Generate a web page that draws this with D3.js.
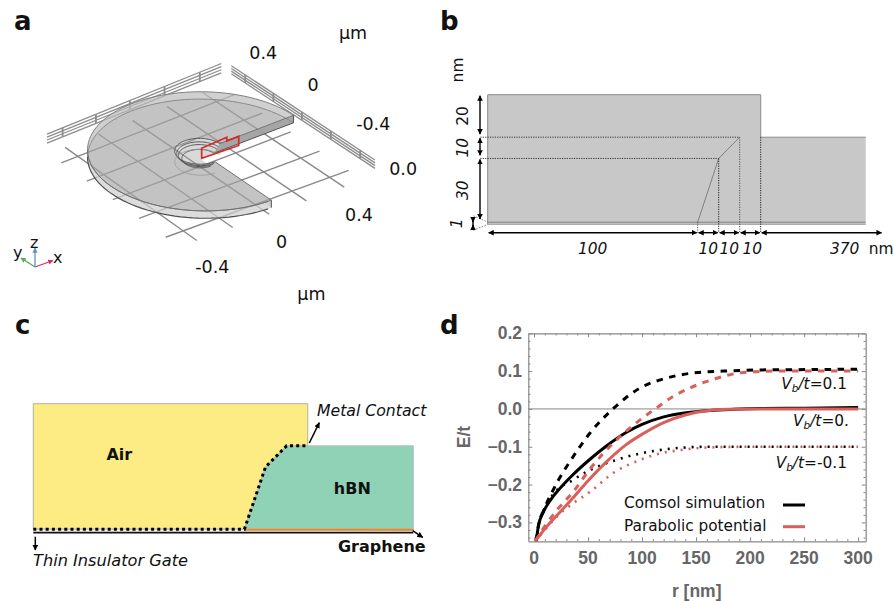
<!DOCTYPE html>
<html>
<head>
<meta charset="utf-8">
<script src="https://cdnjs.cloudflare.com/ajax/libs/d3/7.8.5/d3.min.js"></script>
<style>
html, body { margin: 0; padding: 0; background: #fff; }
svg { display: block; }
text { font-family: "DejaVu Sans", sans-serif; fill: #111; }
.plot text { font-family: "Liberation Sans", sans-serif; font-weight: bold; fill: #666; }
.plot text.note { font-family: "DejaVu Sans", sans-serif; font-weight: normal; fill: #111; }
</style>
</head>
<body>
<svg class="figure" width="893" height="601"></svg>
<script>
// panel a: world coordinates in um
var gridTicks = [-0.4, -0.2, 0, 0.2, 0.4];
var gridEnd = 0.5;
var gridZ = -0.125;
var diskRadius = 0.515;
var diskZ = [0, -0.06];
var holeRadii = [0.112, 0.103, 0.095, 0.08];
var holeZ = [0, -0.02, -0.035, -0.06];
var sweep = [0, 270];
var sectionX = [0.011, 0.011, 0.151, 0.151, 0.217, 0.217];
var sectionZ = [-0.063, 0.019, 0.03, 0, 0, -0.074];
var railZ = [0.027, 0.001, -0.024, -0.05];
var railRightZ = [0, -0.022, -0.044, -0.065];
var frontXTicks = ["-0.4", "0", "0.4"];
var frontXAt = [-0.39, -0.01, 0.4];
var sideYTicks = ["0.4", "0", "-0.4"];
var sideYAt = [0.35, 0, -0.41];

// panel b: sizes in nm
var stepX = [0, 100, 110, 120, 130, 180];
var stepZ = [0, 1, 31, 41, 61];
var widthLabels = ["100", "10", "10", "10", "370"];
var widthLabelAt = [50, 105, 115, 126, 170];
var heightLabels = ["20", "10", "30", "1"];
var heightLabelAt = [51, 36, 16, 0.5];

// panel d: E/t against r
var xTicks = [0, 50, 100, 150, 200, 250, 300];
var yTicks = [0.2, 0.1, 0, -0.1, -0.2, -0.3];
var comsolFlatR = [2, 4, 8.6, 15, 24, 36, 51, 67, 86, 100, 120, 141, 163, 185, 210, 250, 300];
var comsolFlatE = [-0.35, -0.31, -0.273, -0.242, -0.21, -0.174, -0.135, -0.098, -0.061, -0.041, -0.021, -0.01, -0.004, -0.001, 0.001, 0.002, 0.004];
var parabolicFlatR = [1, 12, 25, 37, 50, 67, 85, 100, 120, 140, 160, 180, 200, 250, 300];
var parabolicFlatE = [-0.35, -0.31, -0.27, -0.232, -0.19, -0.14, -0.095, -0.067, -0.036, -0.016, -0.005, -0.001, 0, 0, 0];
var comsolUpR = [2, 4, 9, 17.6, 36, 51.5, 73, 98, 122, 147, 175, 206, 250, 300];
var comsolUpE = [-0.35, -0.31, -0.268, -0.215, -0.127, -0.065, 0, 0.055, 0.081, 0.095, 0.1, 0.103, 0.104, 0.105];
var parabolicUpR = [1, 10, 21, 36, 51.5, 73, 92, 115, 130, 144, 169, 190, 221, 300];
var parabolicUpE = [-0.35, -0.31, -0.268, -0.22, -0.16, -0.091, -0.043, 0.006, 0.035, 0.055, 0.081, 0.095, 0.1, 0.1];
var comsolDownR = [2, 4, 9, 17.6, 36, 51.5, 76, 98, 116, 135, 160, 200, 300];
var comsolDownE = [-0.35, -0.31, -0.268, -0.226, -0.188, -0.162, -0.135, -0.118, -0.109, -0.103, -0.1, -0.1, -0.1];
var parabolicDownR = [1, 10, 21, 36, 51.5, 73, 98, 116, 135, 160, 200, 300];
var parabolicDownE = [-0.35, -0.32, -0.285, -0.25, -0.22, -0.17, -0.135, -0.118, -0.109, -0.102, -0.1, -0.1];

var black = "#000";
var red = "#d9605a";
var svg = d3.select(".figure");

// arrowheads, used by the dimension lines and the callouts
var defs = svg.append("defs");
defs.append("marker").attr("id", "head").attr("viewBox", "0 0 10 10").
    attr("refX", 9).attr("refY", 5).attr("markerWidth", 4).attr("markerHeight", 4).
    attr("orient", "auto-start-reverse").
    append("path").attr("d", "M0,0 L10,5 L0,10 z").attr("fill", "#000");
["#d0326b", "#5aa85a", "#5a93c5"].forEach(function(c, i) {
    defs.append("marker").attr("id", "triad" + i).attr("viewBox", "0 0 10 10").
        attr("refX", 9).attr("refY", 5).attr("markerWidth", 4).attr("markerHeight", 4).
        attr("orient", "auto").
        append("path").attr("d", "M0,0 L10,5 L0,10 z").attr("fill", c);
});

function letter(s, x, y) {
    svg.append("text").attr("x", x).attr("y", y).
        style("font-size", "26px").style("font-weight", "bold").text(s);
}
letter("a", 14, 30);
letter("b", 440, 30);
letter("c", 15, 334);
letter("d", 440, 334);

// ---- panel a: oblique view of the three quarter disk ----
var pa = svg.append("g");
var xToH = d3.scaleLinear().domain([0, 1]).range([0, 178]);
var xToV = d3.scaleLinear().domain([0, 1]).range([0, -68.3]);
var yToH = d3.scaleLinear().domain([0, 1]).range([0, -136.7]);
var yToV = d3.scaleLinear().domain([0, 1]).range([0, -93.3]);
var zToV = d3.scaleLinear().domain([0, 1]).range([0, -122]);

function project(p) {
    var h = xToH(p[0]) + yToH(p[1]);
    var v = xToV(p[0]) + yToV(p[1]) + zToV(p[2]);
    var f = 1 + 0.03 * h / 117; // a touch of perspective
    return [199.7 + h * f, 151.3 + v * f];
}
var worldLine = d3.line().
    x(function(d) { return project(d)[0]; }).
    y(function(d) { return project(d)[1]; });

function arc(r, z, from, to) {
    return d3.range(from === undefined ? sweep[0] : from, (to === undefined ? sweep[1] : to) + 1, 3).map(function(deg) {
        var t = deg * Math.PI / 180;
        return [r * Math.cos(t), r * Math.sin(t), z];
    });
}
function stroke3d(points, colour, w) {
    pa.append("path").attr("d", worldLine(points)).
        attr("fill", "none").attr("stroke", colour).attr("stroke-width", w);
}
function fill3d(points, colour, opacity) {
    pa.append("path").attr("d", worldLine(points) + "Z").
        attr("fill", colour).attr("fill-opacity", opacity).attr("stroke", "none");
}

// floor grid
gridTicks.forEach(function(t) {
    stroke3d([[t, -gridEnd, gridZ], [t, gridEnd, gridZ]], "#8a8a8a", 1.4);
    stroke3d([[-gridEnd, t, gridZ], [gridEnd, t, gridZ]], "#8a8a8a", 1.4);
});
// back rails
railZ.forEach(function(z) {
    stroke3d([[-0.495, 0.52, z], [0.52, 0.52, z]], "#8c8c8c", 1.3);
});
railRightZ.forEach(function(z) {
    stroke3d([[0.56, -gridEnd, z], [0.56, gridEnd, z]], "#8c8c8c", 1.3);
});
gridTicks.forEach(function(t) {
    stroke3d([[t, 0.52, railZ[0]], [t, 0.52, railZ[3]]], "#8c8c8c", 1.8);
    stroke3d([[0.56, t, railRightZ[0]], [0.56, t, railRightZ[3]]], "#8c8c8c", 1.8);
});

var topOuter = arc(diskRadius, diskZ[0]);
var bottomOuter = arc(diskRadius, diskZ[1]);
var topInner = arc(holeRadii[0], diskZ[0]);
var origin = [0, 0, diskZ[1]];

// bottom plate, rim wall, cut walls, top face
fill3d(bottomOuter.concat([origin]), "#a4a4a4", 0.42);
fill3d(topOuter.concat(bottomOuter.slice().reverse()), "#e0e0e0", 0.5);
fill3d([[holeRadii[0], 0, diskZ[0]], [diskRadius, 0, diskZ[0]], [diskRadius, 0, diskZ[1]], [holeRadii[3], 0, diskZ[1]]], "#a0a0a0", 0.9);
fill3d([[0, -holeRadii[0], diskZ[0]], [0, -diskRadius, diskZ[0]], [0, -diskRadius, diskZ[1]], [0, -holeRadii[3], diskZ[1]]], "#a4a4a4", 0.42);
fill3d(topOuter.concat(topInner.slice().reverse()), "#a4a4a4", 0.42);

// edges
stroke3d(topOuter, "#808080", 1);
stroke3d(arc(diskRadius, diskZ[1], 0, 142), "#8a8a8a", 1);
stroke3d(arc(diskRadius, diskZ[1], 142, 270), "#4f4f4f", 1.2);
stroke3d(arc(diskRadius, diskZ[0], 142, 270), "#707070", 0.9);
stroke3d([[diskRadius, 0, diskZ[0]], [holeRadii[0], 0, diskZ[0]]], "#666", 0.8);
stroke3d([[diskRadius, 0, diskZ[1]], [holeRadii[3], 0, diskZ[1]]], "#555", 1);
stroke3d([[diskRadius, 0, diskZ[0]], [diskRadius, 0, diskZ[1]]], "#555", 1);
stroke3d([[0, -diskRadius, diskZ[0]], [0, -holeRadii[0], diskZ[0]]], "#666", 0.9);
stroke3d([[0, -diskRadius, diskZ[0]], [0, -diskRadius, diskZ[1]]], "#555", 1);
holeRadii.forEach(function(r, i) {
    stroke3d(arc(r, holeZ[i]), "#555", 1);
});
stroke3d(arc(holeRadii[0], diskZ[1] - 0.03), "#999", 0.8);

// red section outline
var section = sectionX.map(function(x, i) { return [x, 0, sectionZ[i]]; });
pa.append("path").attr("d", worldLine(section) + "Z").
    attr("fill", "none").attr("stroke", "#d42a2a").attr("stroke-width", 1.7);

function worldLabel(s, x, y, z) {
    var p = project([x, y, z]);
    pa.append("text").attr("x", p[0]).attr("y", p[1]).attr("text-anchor", "middle").
        attr("dominant-baseline", "central").style("font-size", "17.5px").text(s);
}
frontXTicks.forEach(function(s, i) { worldLabel(s, frontXAt[i], -0.6, -0.268); });
sideYTicks.forEach(function(s, i) { worldLabel(s, 0.62, sideYAt[i], 0.18); });
worldLabel("0.0", 0.82, -0.35, -0.333);
worldLabel("\u03bcm", 0.15, -0.6, -0.76);
worldLabel("\u03bcm", 0.83, 0, 0.47);

// axis triad
var triadOrigin = [35, 267];
var triad = [[{ x: 18, y: -6.5 }, "x"], [{ x: -14, y: -9 }, "y"], [{ x: 0, y: -19 }, "z"]];
triad.forEach(function(d, i) {
    pa.append("line").attr("x1", triadOrigin[0]).attr("y1", triadOrigin[1]).
        attr("x2", triadOrigin[0] + d[0].x).attr("y2", triadOrigin[1] + d[0].y).
        attr("stroke", ["#d0326b", "#5aa85a", "#5a93c5"][i]).attr("stroke-width", 1.3).
        attr("marker-end", "url(#triad" + i + ")");
});
pa.append("text").attr("x", 53).attr("y", 263).style("font-size", "16px").text("x");
pa.append("text").attr("x", 13).attr("y", 258).style("font-size", "16px").text("y");
pa.append("text").attr("x", 30).attr("y", 248).style("font-size", "16px").text("z");

// ---- panel b: cross section with sizes ----
var pb = svg.append("g");
var bx = d3.scaleLinear().domain([0, 180]).range([487.7, 865.7]);
var bz = d3.scaleLinear().domain([0, 61]).range([224.3, 94.7]);
var bLine = d3.line().x(function(d) { return bx(d[0]); }).y(function(d) { return bz(d[1]); });

pb.append("path").
    attr("d", bLine([[stepX[0], stepZ[0]], [stepX[0], stepZ[4]], [stepX[4], stepZ[4]], [stepX[4], stepZ[3]], [stepX[5], stepZ[3]], [stepX[5], stepZ[0]]]) + "Z").
    attr("fill", "#c8c8c8").attr("stroke", "none");
function bStroke(points, colour, w, dash) {
    pb.append("path").attr("d", bLine(points)).attr("fill", "none").
        attr("stroke", colour).attr("stroke-width", w).attr("stroke-dasharray", dash || null);
}
bStroke([[0, 0], [0, 61], [130, 61], [130, 41], [180, 41]], "#8a8a8a", 1);
bStroke([[0, 1], [180, 1]], "#808080", 1);
bStroke([[0, 0], [180, 0]], "#9a9a9a", 1);
bStroke([[100, 1], [110, 31], [120, 41]], "#777", 0.9);

// dotted guides
bStroke([[-3.5, 41], [120, 41]], "#333", 1, "1.2,1.2");
bStroke([[-3.5, 31], [110, 31]], "#333", 1, "1.2,1.2");
bStroke([[100, 1], [100, -4]], "#555", 1, "1.2,1.2");
bStroke([[110, 31], [110, -4]], "#222", 1, "1.2,1.2");
bStroke([[120, 41], [120, -4]], "#555", 1, "1.2,1.2");
bStroke([[130, 41], [130, -4]], "#222", 1, "1.2,1.2");
bStroke([[-6.8, -2.8], [0, 0]], "#555", 0.8, "1.5,1.5");
bStroke([[-6.8, 4], [0, 1]], "#555", 0.8, "1.5,1.5");

function dimension(g, x1, y1, x2, y2, both) {
    var l = g.append("line").attr("x1", x1).attr("y1", y1).attr("x2", x2).attr("y2", y2).
        attr("stroke", "#000").attr("stroke-width", 1.4).attr("marker-end", "url(#head)");
    if (both) l.attr("marker-start", "url(#head)");
}
// width arrows
var widthStops = [0, 100, 110, 120, 130, 188];
d3.pairs(widthStops).forEach(function(p) {
    dimension(pb, bx(p[0]) + 1, 232.7, bx(p[1]) - 1, 232.7, true);
});
widthLabels.forEach(function(s, i) {
    pb.append("text").attr("x", bx(widthLabelAt[i])).attr("y", 253.5).attr("text-anchor", "middle").
        style("font-size", "15.4px").style("font-style", "italic").text(s);
});
pb.append("text").attr("x", 881).attr("y", 253.5).attr("text-anchor", "middle").
    style("font-size", "15.4px").text("nm");

// height arrows
[[61, 42], [41, 32], [31, 2]].forEach(function(p) {
    dimension(pb, 480, bz(p[0]) + 1, 480, bz(p[1]) - 1, true);
});
dimension(pb, 473, 218, 473, 222, false);
dimension(pb, 473, 230, 473, 225, false);
pb.append("line").attr("x1", 473).attr("y1", 218).attr("x2", 473).attr("y2", 230).
    attr("stroke", "#000").attr("stroke-width", 1.4);
heightLabels.forEach(function(s, i) {
    var cy = bz(heightLabelAt[i]);
    pb.append("text").attr("transform", "translate(" + (i === 3 ? 462 : 468) + "," + cy + ") rotate(-90)").
        attr("text-anchor", "middle").style("font-size", "15.4px").
        style("font-style", i === 0 ? "normal" : "italic").text(s);
});
pb.append("text").attr("transform", "translate(463,70) rotate(-90)").
    attr("text-anchor", "middle").style("font-size", "15.4px").text("nm");

// ---- panel c: materials ----
var pc = svg.append("g");
var cx = d3.scaleLinear().domain([0, 180]).range([33.3, 413.3]);
var cz = d3.scaleLinear().domain([0, 61]).range([532.3, 403.7]);
var cLine = d3.line().x(function(d) { return cx(d[0]); }).y(function(d) { return cz(d[1]); });

var contactX = [0, 100, 110, 120, 130];
var contactZ = [1.5, 1.5, 31, 41, 41];
var contact = contactX.map(function(x, i) { return [x, contactZ[i]]; });

pc.append("path").attr("d", cLine(contact.concat([[130, 61], [0, 61]])) + "Z").
    attr("fill", "#fdeb84").attr("stroke", "#b5b09a").attr("stroke-width", 1);
pc.append("path").attr("d", cLine(contact.slice(1).concat([[180, 41], [180, 1]])) + "Z").
    attr("fill", "#90d2b6").attr("stroke", "#b5bdb8").attr("stroke-width", 1);
pc.append("path").attr("d", cLine([[0, 0.4], [180, 0.4]])).attr("stroke", "#bbb").attr("stroke-width", 1);
pc.append("path").attr("d", cLine([[100, 1.2], [180, 1.2]])).attr("stroke", "#f58220").attr("stroke-width", 2);
pc.append("path").attr("d", cLine([[0, -0.2], [180, -0.2]])).attr("stroke", "#111").attr("stroke-width", 1.4);
pc.append("path").attr("d", cLine(contact)).attr("fill", "none").attr("stroke", "#000").
    attr("stroke-width", 3).attr("stroke-dasharray", "3,3.2");

function callout(x1, y1, x2, y2) {
    pc.append("line").attr("x1", x1).attr("y1", y1).attr("x2", x2).attr("y2", y2).
        attr("stroke", "#000").attr("stroke-width", 1.5).attr("marker-end", "url(#head)");
}
callout(309.3, 443, 319.3, 422.7);
callout(35.3, 536.7, 35.3, 550);
callout(412.7, 530.7, 422.7, 537.3);

function cText(s, x, y, size, style, weight, anchor) {
    pc.append("text").attr("x", x).attr("y", y).attr("text-anchor", anchor || "start").
        style("font-size", size + "px").style("font-style", style).style("font-weight", weight).text(s);
}
cText("Metal Contact", 317, 416, 15.7, "italic", "normal");
cText("Thin Insulator Gate", 33, 566, 16.2, "italic", "normal");
cText("Air", 119.3, 460, 16, "normal", "bold", "middle");
cText("hBN", 352.3, 494, 16, "normal", "bold", "middle");
cText("Graphene", 425.7, 551.7, 16, "normal", "bold", "end");

// ---- panel d: E/t curves ----
var pd = svg.append("g").attr("class", "plot");
var left = 528.3, right = 865.7, top_ = 333.3, bottom = 541.3;
var x = d3.scaleLinear().domain([-5.3, 307]).range([left, right]);
var y = d3.scaleLinear().domain([-0.35, 0.2]).range([bottom, top_]);

defs.append("clipPath").attr("id", "plotClip").append("rect").
    attr("x", left).attr("y", top_).attr("width", right - left).attr("height", bottom - top_);

var minorX = d3.range(0, 301, 10);
var minorY = d3.range(-34, 21, 2).map(function(v) { return v / 100; });
var isMajorX = function(d) { return d % 50 === 0; };
var isMajorY = function(d) { return Math.abs(d * 10 - Math.round(d * 10)) < 1e-6; };

function frameAxis(axis, tx, ty, lengthFn) {
    var g = pd.append("g").attr("transform", "translate(" + tx + "," + ty + ")").call(axis);
    g.selectAll(".domain").attr("stroke", "#888").attr("stroke-width", 1.2);
    g.selectAll(".tick line").attr("stroke", "#888").attr("stroke-width", 1).
        each(function(d) { lengthFn(d3.select(this), d); });
    g.selectAll(".tick text").remove();
    return g;
}
frameAxis(d3.axisBottom(x).tickValues(minorX).tickSizeOuter(0), 0, bottom, function(s, d) { s.attr("y2", isMajorX(d) ? -4 : -2.2); });
frameAxis(d3.axisTop(x).tickValues(minorX).tickSizeOuter(0), 0, top_, function(s, d) { s.attr("y2", isMajorX(d) ? 4 : 2.2); });
frameAxis(d3.axisLeft(y).tickValues(minorY).tickSizeOuter(0), left, 0, function(s, d) { s.attr("x2", isMajorY(d) ? 4 : 2.2); });
frameAxis(d3.axisRight(y).tickValues(minorY).tickSizeOuter(0), right, 0, function(s, d) { s.attr("x2", isMajorY(d) ? -4 : -2.2); });

pd.selectAll(".xlab").data(xTicks).enter().append("text").attr("class", "xlab").
    attr("x", function(d) { return x(d); }).attr("y", 564).attr("text-anchor", "middle").
    style("font-size", "17.5px").text(function(d) { return d; });
pd.selectAll(".ylab").data(yTicks).enter().append("text").attr("class", "ylab").
    attr("x", 522).attr("y", function(d) { return y(d) + 6; }).attr("text-anchor", "end").
    style("font-size", "17.5px").
    text(function(d) { return (d < 0 ? "\u2212" : "") + Math.abs(d).toFixed(1); });
pd.append("text").attr("x", 696.7).attr("y", 596.7).attr("text-anchor", "middle").
    style("font-size", "17.5px").text("r [nm]");
pd.append("text").attr("transform", "translate(470,437) rotate(-90)").attr("text-anchor", "middle").
    style("font-size", "17.5px").text("E/t");

pd.append("line").attr("x1", left).attr("x2", right).attr("y1", y(0)).attr("y2", y(0)).
    attr("stroke", "#888").attr("stroke-width", 1);

var curve = d3.line().x(function(d) { return x(d[0]); }).y(function(d) { return y(d[1]); }).
    curve(d3.curveMonotoneX);
var plot = pd.append("g").attr("clip-path", "url(#plotClip)");
function drawCurve(rs, es, colour, w, dash) {
    plot.append("path").datum(d3.zip(rs, es)).attr("d", curve).attr("fill", "none").
        attr("stroke", colour).attr("stroke-width", w).attr("stroke-dasharray", dash || null);
}
drawCurve(comsolDownR, comsolDownE, black, 2.6, "2,6");
drawCurve(comsolUpR, comsolUpE, black, 3, "6.5,6.5");
drawCurve(comsolFlatR, comsolFlatE, black, 3);
drawCurve(parabolicDownR, parabolicDownE, red, 2.6, "2,6");
drawCurve(parabolicUpR, parabolicUpE, red, 3, "6.5,6.5");
drawCurve(parabolicFlatR, parabolicFlatE, red, 3);

// legend
[["Comsol simulation", 507.5, black, 505], ["Parabolic potential", 531, red, 526.7]].forEach(function(d) {
    pd.append("text").attr("class", "note").attr("x", 624).attr("y", d[1]).
        style("font-size", "15.3px").text(d[0]);
    pd.append("line").attr("x1", 783).attr("x2", 805).attr("y1", d[3]).attr("y2", d[3]).
        attr("stroke", d[2]).attr("stroke-width", 3);
});

// bias labels
[["0.1", 389, 847], ["0.", 426, 849], ["-0.1", 467.7, 847]].forEach(function(d) {
    var t = pd.append("text").attr("class", "note").attr("x", d[2]).attr("y", d[1]).
        attr("text-anchor", "end").style("font-size", "15.4px");
    t.append("tspan").style("font-style", "italic").text("V");
    t.append("tspan").style("font-style", "italic").style("font-size", "10.5px").attr("dy", 3).text("b");
    t.append("tspan").style("font-style", "italic").attr("dy", -3).text("/t");
    t.append("tspan").text("=" + d[0]);
});
</script>
</body>
</html>
